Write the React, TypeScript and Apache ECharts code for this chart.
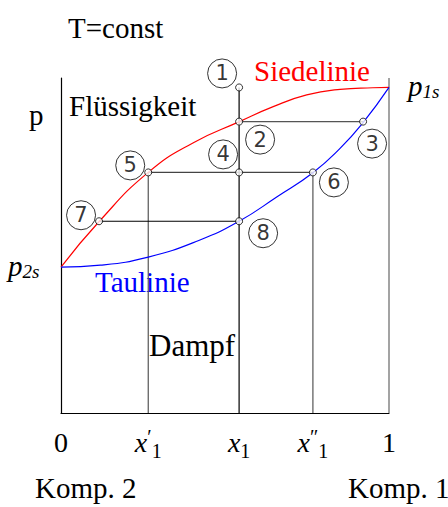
import React, { useEffect, useRef } from 'react';
import * as echarts from 'echarts';

// Mole fraction x of component 1 and pressure p (scaled so p1s = 1)
const siedeX = [0, 0.117, 0.266, 0.405, 0.544, 0.647, 0.749, 0.851, 0.951, 1];
const siedeP = [0.448, 0.589, 0.739, 0.831, 0.895, 0.941, 0.977, 0.994, 0.999, 1.0];

const tauX = [0, 0.12, 0.266, 0.42, 0.543, 0.66, 0.768, 0.85, 0.921, 1];
const tauP = [0.448, 0.454, 0.479, 0.53, 0.589, 0.665, 0.738, 0.812, 0.892, 1.0];

// characteristic compositions and pressure levels
const X1 = 0.543;
const X1_LIQ = 0.266;
const X1_VAP = 0.768;
const X7 = 0.116;
const X3 = 0.921;
const P1 = 1.0;
const P2 = 0.895;
const P5 = 0.739;
const P7 = 0.589;
const P_MAX = 1.029;

// state points 1..8
const stateNames = ['1', '2', '3', '4', '5', '6', '7', '8'];
const stateX = [X1, X1, X3, X1, X1_LIQ, X1_VAP, X7, X1];
const stateP = [P1, P2, P2, P5, P5, P5, P7, P7];

const xTickValues = [0, X1_LIQ, X1, X1_VAP, 1];
const xTickLabels = ['{n|0}', '{i|x}{pr|′}{sb|1}', '{i|x}{sb|1}', '{i|x}{pr|″}{sb|1}', '{n|1}'];

// where each circled number sits relative to its point (px)
const labelOffsets: Record<string, [number, number]> = {
  '1': [-17, -14],
  '2': [21, 18],
  '3': [9, 22],
  '4': [-16, -18],
  '5': [-18, -7],
  '6': [21, 10],
  '7': [-18, -6],
  '8': [24, 12],
};

const SERIF = 'Liberation Serif';
const SANS = 'DejaVu Sans';

function seg(a: [number, number], b: [number, number], color: string) {
  return {
    type: 'line',
    data: [a, b],
    symbol: 'none',
    silent: true,
    lineStyle: { color, width: 1.2 },
    z: 1,
  };
}

function label(text: string, x: number, y: number, size: number, fill = '#000') {
  return {
    type: 'text',
    x,
    y,
    style: { text, fontFamily: SERIF, fontSize: size, fill, verticalAlign: 'middle', align: 'left' },
  };
}

export default function App() {
  const ref = useRef<HTMLDivElement>(null);

  useEffect(() => {
    if (!ref.current) return;
    const chart = echarts.init(ref.current, null, { renderer: 'svg' });

    const subRich = {
      p: { fontFamily: SERIF, fontSize: 29, fontStyle: 'italic', fill: '#000', lineHeight: 30 },
      s: { fontFamily: SERIF, fontSize: 19, fontStyle: 'italic', fill: '#000', verticalAlign: 'bottom', lineHeight: 30 },
    };

    chart.setOption({
      animation: false,
      backgroundColor: '#fff',
      textStyle: { fontFamily: SERIF },
      grid: { left: 61, right: 59, top: 78, bottom: 94 },
      xAxis: {
        type: 'value',
        min: 0,
        max: 1,
        axisLine: { show: true, lineStyle: { color: '#000', width: 1.2 } },
        axisTick: { show: false },
        splitLine: { show: false },
        axisLabel: {
          show: true,
          customValues: xTickValues,
          margin: 12,
          color: '#000',
          formatter: (v: number) => {
            const i = xTickValues.findIndex((t) => Math.abs(t - v) < 1e-6);
            return i >= 0 ? xTickLabels[i] : '';
          },
          rich: {
            n: { fontFamily: SERIF, fontSize: 28, color: '#000', lineHeight: 34 },
            i: { fontFamily: SERIF, fontSize: 28, fontStyle: 'italic', color: '#000', lineHeight: 34 },
            pr: { fontFamily: SERIF, fontSize: 20, color: '#000', verticalAlign: 'top', lineHeight: 34, padding: [2, 0, 0, 0] },
            sb: { fontFamily: SERIF, fontSize: 20, color: '#000', verticalAlign: 'bottom', lineHeight: 34, padding: [0, 0, -2, 0] },
          },
        },
      },
      yAxis: {
        type: 'value',
        min: 0,
        max: P_MAX,
        axisLine: { show: true, lineStyle: { color: '#000', width: 1.2 } },
        axisTick: { show: false },
        axisLabel: { show: false },
        splitLine: { show: false },
      },
      series: [
        // right border at x = 1
        seg([1, 0], [1, P_MAX], '#666'),
        // composition verticals
        seg([X1, 0], [X1, P1], '#000'),
        seg([X1_LIQ, 0], [X1_LIQ, P5], '#555'),
        seg([X1_VAP, 0], [X1_VAP, P5], '#555'),
        // tie lines
        seg([X1, P2], [X3, P2], '#555'),
        seg([X1_LIQ, P5], [X1_VAP, P5], '#444'),
        seg([X7, P7], [X1, P7], '#000'),
        {
          name: 'Siedelinie',
          type: 'line',
          data: siedeX.map((x, i) => [x, siedeP[i]]),
          smooth: 0.5,
          symbol: 'none',
          lineStyle: { color: '#ff0000', width: 1.2 },
          z: 2,
        },
        {
          name: 'Taulinie',
          type: 'line',
          data: tauX.map((x, i) => [x, tauP[i]]),
          smooth: 0.5,
          symbol: 'none',
          lineStyle: { color: '#0000ff', width: 1.2 },
          z: 2,
        },
        {
          type: 'scatter',
          data: stateNames.map((n, i) => ({
            name: n,
            value: [stateX[i], stateP[i]],
            label: { offset: labelOffsets[n] },
          })),
          symbol: 'circle',
          symbolSize: 7,
          itemStyle: { color: '#fff', borderColor: '#000', borderWidth: 1 },
          label: {
            show: true,
            position: 'inside',
            formatter: '{b}',
            fontFamily: SANS,
            fontSize: 21,
            color: '#000',
            width: 29,
            height: 29,
            lineHeight: 29,
            align: 'center',
            verticalAlign: 'middle',
            borderColor: '#000',
            borderWidth: 1,
            borderRadius: 15,
            padding: 0,
          },
          z: 5,
        },
      ],
      graphic: [
        label('T=const', 68, 28, 29),
        label('Flüssigkeit', 69, 106, 29),
        label('Siedelinie', 254, 71, 29, '#ff0000'),
        label('Taulinie', 95, 282, 29, '#0000ff'),
        label('Dampf', 149, 345, 31),
        label('p', 29, 115, 29),
        label('Komp. 2', 35, 488, 29),
        label('Komp. 1', 348, 488, 29),
        { type: 'text', x: 408, y: 86, style: { text: '{p|p}{s|1s}', verticalAlign: 'middle', rich: subRich } },
        { type: 'text', x: 8, y: 266, style: { text: '{p|p}{s|2s}', verticalAlign: 'middle', rich: subRich } },
      ],
    });

    return () => chart.dispose();
  }, []);

  return <div ref={ref} style={{ width: 448, height: 507, position: 'absolute', left: 0, top: 0 }} />;
}
